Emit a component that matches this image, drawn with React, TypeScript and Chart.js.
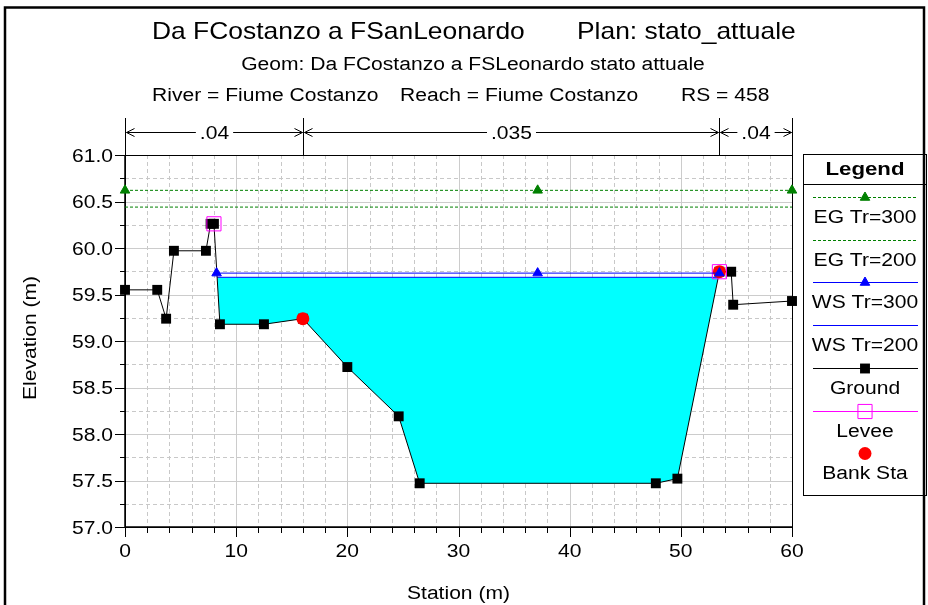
import React, { useEffect, useRef } from 'react';
import { Chart, registerables } from 'chart.js';
import { drawPoint } from 'chart.js/helpers';

Chart.register(...registerables);

// ---------- data ----------
const groundStation = [0, 2.9, 3.7, 4.4, 7.28, 7.7, 8.0, 8.54, 12.5, 16.0, 20.0, 24.62, 26.51, 47.75, 49.69, 53.47, 54.53, 54.71, 60];
const groundElevation = [59.55, 59.55, 59.24, 59.97, 59.97, 60.26, 60.26, 59.18, 59.18, 59.24, 58.72, 58.19, 57.47, 57.47, 57.52, 59.745, 59.745, 59.39, 59.43];

const egTr300Station = [0, 37.12, 60];
const egTr300Elevation = [60.62, 60.62, 60.62];
const egTr200Station = [0, 60];
const egTr200Elevation = [60.44, 60.44];

const wsTr300Station = [8.24, 37.12, 53.47];
const wsTr300Elevation = [59.73, 59.73, 59.73];
const wsTr200Station = [8.29, 53.37];
const wsTr200Elevation = [59.685, 59.685];

const leveeStation = [8.0, 53.47];
const leveeElevation = [60.26, 59.745];
const bankStation = [16.0, 53.47];
const bankElevation = [59.24, 59.745];

const roughnessBreaks = [0, 16.0, 53.47, 60];
const roughnessValues = ['.04', '.035', '.04'];

const xTickValues = [0, 10, 20, 30, 40, 50, 60];
const xTickLabels = ['0', '10', '20', '30', '40', '50', '60'];
const yTickValues = [57.0, 57.5, 58.0, 58.5, 59.0, 59.5, 60.0, 60.5, 61.0];
const yTickLabels = ['57.0', '57.5', '58.0', '58.5', '59.0', '59.5', '60.0', '60.5', '61.0'];

const titleLeft = 'Da FCostanzo a FSanLeonardo';
const titleRight = 'Plan: stato_attuale';
const subtitle = 'Geom: Da FCostanzo a FSLeonardo stato attuale';
const infoRiver = 'River = Fiume Costanzo';
const infoReach = 'Reach = Fiume Costanzo';
const infoRS = 'RS = 458';
const xAxisTitle = 'Station (m)';
const yAxisTitle = 'Elevation (m)';

// ---------- styles ----------
const GREEN = 'rgb(0,128,0)';
const BLUE = 'rgb(0,0,255)';
const CYAN = 'rgb(0,255,255)';
const MAGENTA = 'rgb(255,0,255)';
const RED = 'rgb(255,0,0)';
const FONT = '"Liberation Sans", Arial, Helvetica, sans-serif';
const SX = 1.17;
const SX_TITLE = 1.1;

const pts = (xs: number[], ys: number[]) => xs.map((x, i) => ({ x, y: ys[i] }));

function text(ctx: CanvasRenderingContext2D, s: string, x: number, y: number, size: number,
  align: CanvasTextAlign = 'left', bold = false, rotate = 0, baseline: CanvasTextBaseline = 'alphabetic', sx = SX) {
  ctx.save();
  ctx.font = `${bold ? 'bold ' : ''}${size}px ${FONT}`;
  ctx.fillStyle = '#000';
  ctx.textAlign = align;
  ctx.textBaseline = baseline;
  ctx.translate(x, y);
  if (rotate) ctx.rotate(rotate);
  ctx.scale(sx, 1);
  ctx.fillText(s, 0, 0);
  ctx.restore();
}

function textWidth(ctx: CanvasRenderingContext2D, s: string, size: number) {
  ctx.save();
  ctx.font = `${size}px ${FONT}`;
  const w = ctx.measureText(s).width * SX;
  ctx.restore();
  return w;
}

const hecPlugin = {
  id: 'hec',
  beforeDraw(chart: any) {
    const ctx = chart.ctx;
    ctx.save();
    ctx.fillStyle = '#fff';
    ctx.fillRect(0, 0, chart.width, chart.height);
    ctx.restore();
  },
  beforeDatasetsDraw(chart: any) {
    const ctx: CanvasRenderingContext2D = chart.ctx;
    const { left, right, top, bottom } = chart.chartArea;
    const xs = chart.scales.x, ys = chart.scales.y;
    ctx.save();
    ctx.lineWidth = 1;
    for (let i = 1; i < 30; i++) {
      const v = i * 2;
      const px = Math.round(xs.getPixelForValue(v)) + 0.5;
      const major = v % 10 === 0;
      ctx.strokeStyle = major ? '#cccccc' : '#c8c8c8';
      ctx.setLineDash(major ? [] : [4, 3]);
      ctx.beginPath(); ctx.moveTo(px, top); ctx.lineTo(px, bottom); ctx.stroke();
    }
    for (let i = 1; i < 16; i++) {
      const v = 57 + i * 0.25;
      const py = Math.round(ys.getPixelForValue(v)) + 0.5;
      const major = i % 2 === 0;
      ctx.strokeStyle = major ? '#cccccc' : '#c8c8c8';
      ctx.setLineDash(major ? [] : [4, 3]);
      ctx.beginPath(); ctx.moveTo(left, py); ctx.lineTo(right, py); ctx.stroke();
    }
    ctx.setLineDash([]);
    ctx.strokeStyle = '#000';
    ctx.lineWidth = 1;
    ctx.strokeRect(Math.round(left) + 0.5, Math.round(top) + 0.5, Math.round(right - left), Math.round(bottom - top));
    ctx.lineWidth = 1.5;
    ctx.beginPath();
    ctx.moveTo(Math.round(left), Math.round(top));
    ctx.lineTo(Math.round(left), Math.round(bottom));
    ctx.lineTo(Math.round(right), Math.round(bottom));
    ctx.stroke();
    ctx.restore();
  },
  afterDatasetsDraw(chart: any) {
    const ctx: CanvasRenderingContext2D = chart.ctx;
    const { left, right, top, bottom } = chart.chartArea;
    const xs = chart.scales.x, ys = chart.scales.y;
    ctx.save();
    ctx.strokeStyle = '#000';
    ctx.lineWidth = 1;
    for (let i = 0; i <= 30; i++) {
      const v = i * 2;
      const px = Math.round(xs.getPixelForValue(v)) + 0.5;
      const len = v % 10 === 0 ? 10 : 6;
      ctx.beginPath(); ctx.moveTo(px, bottom); ctx.lineTo(px, bottom + len); ctx.stroke();
    }
    for (let i = 0; i <= 16; i++) {
      const v = 57 + i * 0.25;
      const py = Math.round(ys.getPixelForValue(v)) + 0.5;
      const len = i % 2 === 0 ? 10 : 5;
      ctx.beginPath(); ctx.moveTo(left - len, py); ctx.lineTo(left, py); ctx.stroke();
    }
    xTickValues.forEach((v, i) => text(ctx, xTickLabels[i], xs.getPixelForValue(v), bottom + 30, 18, 'center'));
    yTickValues.forEach((v, i) => text(ctx, yTickLabels[i], left - 12, ys.getPixelForValue(v) + 6.5, 18, 'right'));
    text(ctx, xAxisTitle, (left + right) / 2, 599, 18, 'center');
    text(ctx, yAxisTitle, 31, (top + bottom) / 2 - 3, 18, 'center', false, -Math.PI / 2, 'middle');
    text(ctx, titleLeft, 152, 39, 24, 'left', false, 0, 'alphabetic', SX_TITLE);
    text(ctx, titleRight, 577, 39, 24, 'left', false, 0, 'alphabetic', SX_TITLE);
    text(ctx, subtitle, 473, 70, 18, 'center');
    text(ctx, infoRiver, 152, 101, 18, 'left');
    text(ctx, infoReach, 400, 101, 18, 'left');
    text(ctx, infoRS, 681, 101, 18, 'left');

    const ay = 132.5;
    const bp = roughnessBreaks.map((b) => Math.round(xs.getPixelForValue(b)) + 0.5);
    bp.forEach((p) => { ctx.beginPath(); ctx.moveTo(p, 118); ctx.lineTo(p, top); ctx.stroke(); });
    roughnessValues.forEach((val, i) => {
      const p0 = bp[i], p1 = bp[i + 1];
      const c = (p0 + p1) / 2;
      const w = textWidth(ctx, val, 18);
      text(ctx, val, c, ay + 6.5, 18, 'center');
      ctx.beginPath();
      ctx.moveTo(p0 + 1, ay); ctx.lineTo(c - w / 2 - 4, ay);
      ctx.moveTo(c + w / 2 + 4, ay); ctx.lineTo(p1 - 1, ay);
      ctx.stroke();
      ctx.beginPath();
      ctx.moveTo(p0 + 9, ay - 4); ctx.lineTo(p0 + 1, ay); ctx.lineTo(p0 + 9, ay + 4);
      ctx.moveTo(p1 - 9, ay - 4); ctx.lineTo(p1 - 1, ay); ctx.lineTo(p1 - 9, ay + 4);
      ctx.stroke();
    });

    const lx0 = 803.5, lx1 = 926.5, ly0 = 154.5, ly1 = 495.5;
    const lc = (lx0 + lx1) / 2;
    ctx.strokeRect(lx0, ly0, lx1 - lx0, ly1 - ly0);
    ctx.beginPath(); ctx.moveTo(lx0, 184.5); ctx.lineTo(lx1, 184.5); ctx.stroke();
    text(ctx, 'Legend', lc, 175, 19, 'center', true);
    const datasets = chart.data.datasets;
    datasets.forEach((ds: any, k: number) => {
      const y = Math.round(197 + k * 42.7) + 0.5;
      if (ds.legendLine) {
        ctx.save();
        ctx.strokeStyle = ds.borderColor;
        ctx.lineWidth = 1;
        ctx.setLineDash(ds.borderDash || []);
        ctx.beginPath(); ctx.moveTo(813, y); ctx.lineTo(918, y); ctx.stroke();
        ctx.restore();
      }
      if (ds.pointRadius > 0) {
        ctx.save();
        ctx.fillStyle = ds.pointBackgroundColor;
        ctx.strokeStyle = ds.pointBorderColor;
        ctx.lineWidth = ds.pointBorderWidth;
        drawPoint(ctx, { pointStyle: ds.pointStyle, rotation: 0, radius: ds.pointRadius, borderWidth: ds.pointBorderWidth }, lc, y);
        ctx.restore();
      }
      text(ctx, ds.label, lc, y + 25, 18, 'center');
    });

    ctx.lineWidth = 2.5;
    ctx.strokeRect(5, 7.5, 919, 620);
    ctx.restore();
  },
};

export default function App() {
  const ref = useRef<HTMLCanvasElement | null>(null);
  useEffect(() => {
    document.body.style.margin = '0';
    const canvas = ref.current;
    if (!canvas) return;
    const chart = new Chart(canvas, {
      type: 'line',
      data: {
        datasets: [
          {
            label: 'EG Tr=300', data: pts(egTr300Station, egTr300Elevation), borderColor: GREEN, borderWidth: 1,
            borderDash: [3, 2], pointStyle: 'triangle', pointRadius: 5.5, pointBackgroundColor: GREEN,
            pointBorderColor: GREEN, pointBorderWidth: 1, fill: false, order: 5, clip: false, legendLine: true,
          } as any,
          {
            label: 'EG Tr=200', data: pts(egTr200Station, egTr200Elevation), borderColor: GREEN, borderWidth: 1,
            borderDash: [3, 2], pointRadius: 0, fill: false, order: 6, clip: false, legendLine: true,
          } as any,
          {
            label: 'WS Tr=300', data: pts(wsTr300Station, wsTr300Elevation), borderColor: BLUE, borderWidth: 1,
            pointStyle: 'triangle', pointRadius: 5.5, pointBackgroundColor: BLUE, pointBorderColor: BLUE,
            pointBorderWidth: 1, fill: false, order: 0, clip: false, legendLine: true,
          } as any,
          {
            label: 'WS Tr=200', data: pts(wsTr200Station, wsTr200Elevation), borderColor: BLUE, borderWidth: 1,
            pointRadius: 0, backgroundColor: CYAN, fill: { target: 4, above: CYAN, below: CYAN }, order: 4,
            clip: false, legendLine: true,
          } as any,
          {
            label: 'Ground', data: pts(groundStation, groundElevation), borderColor: '#000', borderWidth: 1,
            pointStyle: 'rect', pointRadius: 7, pointBackgroundColor: '#000', pointBorderColor: '#000',
            pointBorderWidth: 0, fill: false, order: 3, clip: false, legendLine: true,
          } as any,
          {
            label: 'Levee', data: pts(leveeStation, leveeElevation), borderColor: MAGENTA, showLine: false,
            pointStyle: 'rect', pointRadius: 10, pointBackgroundColor: 'rgba(0,0,0,0)', pointBorderColor: MAGENTA,
            pointBorderWidth: 1, fill: false, order: 2, clip: false, legendLine: true,
          } as any,
          {
            label: 'Bank Sta', data: pts(bankStation, bankElevation), borderColor: RED, showLine: false,
            pointStyle: 'circle', pointRadius: 6.5, pointBackgroundColor: RED, pointBorderColor: RED,
            pointBorderWidth: 0, fill: false, order: 1, clip: false, legendLine: false,
          } as any,
        ],
      },
      options: {
        responsive: false,
        animation: false,
        devicePixelRatio: 1,
        events: [],
        layout: { padding: { left: 125, right: 136, top: 155, bottom: 78 } },
        plugins: { legend: { display: false }, tooltip: { enabled: false }, title: { display: false } },
        elements: { line: { tension: 0 } },
        scales: {
          x: { type: 'linear', min: 0, max: 60, display: false },
          y: { type: 'linear', min: 57, max: 61, display: false },
        },
      },
      plugins: [hecPlugin],
    } as any);
    return () => chart.destroy();
  }, []);
  return (
    <div style={{ position: 'fixed', left: 0, top: 0, width: 928, height: 605 }}>
      <canvas ref={ref} width={928} height={605} style={{ display: 'block', width: 928, height: 605 }} />
    </div>
  );
}
